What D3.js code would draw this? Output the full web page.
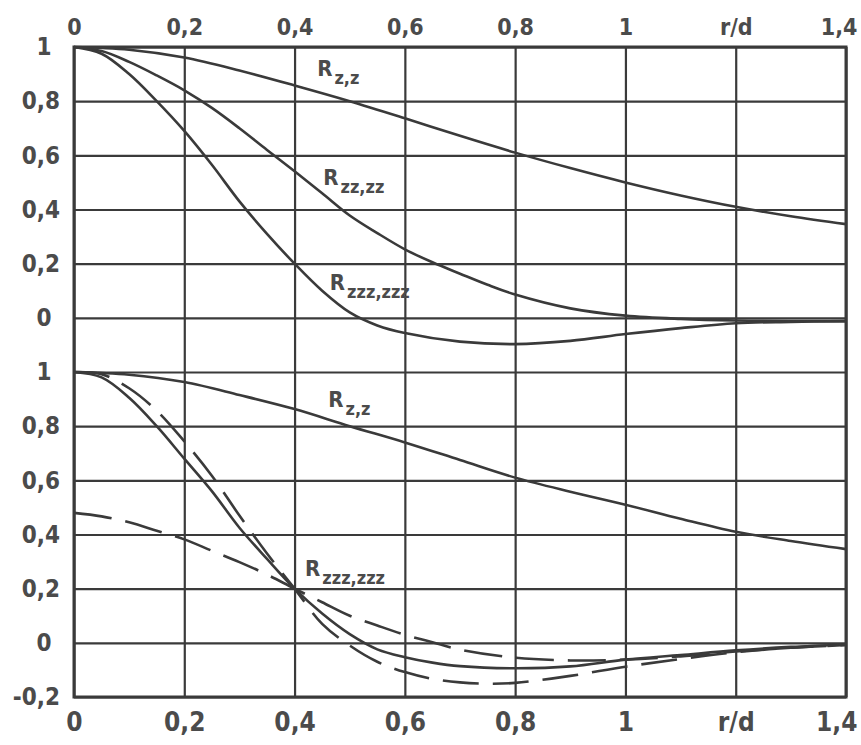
<!DOCTYPE html>
<html lang="en">
<head>
<meta charset="utf-8">
<title>Korrelationsfunktionen</title>
<script src="https://cdn.jsdelivr.net/npm/d3@7/dist/d3.min.js"></script>
<style>
  body { margin: 0; background: #fff; }
  text { font-family: "DejaVu Sans Condensed", "DejaVu Sans", sans-serif; font-weight: bold; font-stretch: condensed; fill: #4b4b4b; }
</style>
</head>
<body>
<div id="chart"></div>
<script>
// axis ticks
var xTicks = [0, 0.2, 0.4, 0.6, 0.8, 1.0, 1.2, 1.4];
var xTickLabels = ["0", "0,2", "0,4", "0,6", "0,8", "1", "r/d", "1,4"];
var yTicksTop = [1, 0.8, 0.6, 0.4, 0.2, 0];
var yTickLabelsTop = ["1", "0,8", "0,6", "0,4", "0,2", "0"];
var yTicksBottom = [1, 0.8, 0.6, 0.4, 0.2, 0, -0.2];
var yTickLabelsBottom = ["1", "0,8", "0,6", "0,4", "0,2", "0", "-0,2"];

// upper panel
var topRzX = [0, 0.1, 0.2, 0.3, 0.4, 0.5, 0.6, 0.7, 0.8, 0.9, 1.0, 1.1, 1.2, 1.3, 1.4];
var topRzY = [1, 0.99, 0.961, 0.913, 0.858, 0.80, 0.737, 0.672, 0.61, 0.553, 0.50, 0.452, 0.41, 0.375, 0.346];
var topRzzX = [0, 0.05, 0.1, 0.15, 0.2, 0.25, 0.3, 0.35, 0.4, 0.45, 0.5, 0.55, 0.6, 0.65, 0.7, 0.75, 0.8, 0.9, 1.0, 1.1, 1.2, 1.3, 1.4];
var topRzzY = [1, 0.985, 0.945, 0.895, 0.84, 0.775, 0.70, 0.62, 0.541, 0.46, 0.378, 0.313, 0.253, 0.205, 0.163, 0.122, 0.086, 0.035, 0.008, -0.004, -0.01, -0.012, -0.012];
var topRzzzX = [0, 0.05, 0.1, 0.15, 0.2, 0.25, 0.3, 0.35, 0.4, 0.45, 0.5, 0.55, 0.6, 0.7, 0.8, 0.9, 1.0, 1.1, 1.2, 1.3, 1.4];
var topRzzzY = [1, 0.975, 0.9, 0.8, 0.69, 0.565, 0.43, 0.31, 0.2, 0.1, 0.02, -0.028, -0.056, -0.088, -0.097, -0.085, -0.06, -0.038, -0.02, -0.015, -0.012];

// lower panel
var botRzX = [0, 0.1, 0.2, 0.3, 0.4, 0.5, 0.6, 0.7, 0.8, 0.9, 1.0, 1.1, 1.2, 1.3, 1.4];
var botRzY = [1, 0.99, 0.963, 0.915, 0.863, 0.80, 0.74, 0.675, 0.61, 0.558, 0.51, 0.458, 0.41, 0.376, 0.346];
var botRzzzX = [0, 0.05, 0.1, 0.15, 0.2, 0.25, 0.3, 0.35, 0.4, 0.45, 0.5, 0.55, 0.6, 0.65, 0.7, 0.8, 0.9, 1.0, 1.1, 1.2, 1.3, 1.4];
var botRzzzY = [1, 0.98, 0.905, 0.80, 0.68, 0.56, 0.425, 0.31, 0.2, 0.108, 0.032, -0.024, -0.053, -0.073, -0.086, -0.094, -0.087, -0.062, -0.045, -0.028, -0.015, -0.006];
var dashAX = [0, 0.05, 0.1, 0.15, 0.2, 0.25, 0.3, 0.35, 0.4, 0.45, 0.5, 0.55, 0.6, 0.65, 0.7, 0.75, 0.8, 0.9, 1.0, 1.1, 1.2, 1.3, 1.4];
var dashAY = [1, 0.992, 0.94, 0.857, 0.744, 0.617, 0.47, 0.33, 0.2, 0.07, -0.01, -0.07, -0.108, -0.133, -0.146, -0.151, -0.148, -0.122, -0.088, -0.06, -0.035, -0.018, -0.008];
var dashBX = [0, 0.05, 0.1, 0.15, 0.2, 0.25, 0.3, 0.35, 0.4, 0.45, 0.5, 0.55, 0.6, 0.65, 0.7, 0.8, 0.9, 1.0, 1.1, 1.2, 1.3, 1.4];
var dashBY = [0.48, 0.467, 0.445, 0.414, 0.382, 0.34, 0.298, 0.252, 0.2, 0.15, 0.1, 0.064, 0.03, 0.002, -0.025, -0.055, -0.065, -0.062, -0.05, -0.032, -0.018, -0.008];

// curve labels: panel, x, y (data units), subscript
var labelPanel = ["top", "top", "top", "bottom", "bottom"];
var labelX = [0.441, 0.452, 0.464, 0.461, 0.419];
var labelY = [0.893, 0.49, 0.103, 0.871, 0.247];
var labelSub = ["z,z", "zz,zz", "zzz,zzz", "z,z", "zzz,zzz"];

var ink = "#3a3a3a";
var margin = { top: 47, right: 15, bottom: 48, left: 74 };
var width = 861 - margin.left - margin.right,
    panelH = 325;

var svg = d3.select("#chart").append("svg")
    .attr("width", 861)
    .attr("height", 745);
var g = svg.append("g")
    .attr("transform", "translate(" + margin.left + "," + margin.top + ")");

var x = d3.scaleLinear().domain([0, 1.4]).range([0, width]);
var yTop = d3.scaleLinear().domain([-0.2, 1]).range([panelH, 0]);
var yBot = d3.scaleLinear().domain([-0.2, 1]).range([2 * panelH, panelH]);

// grid
g.append("g")
    .attr("class", "grid")
    .attr("transform", "translate(0," + 2 * panelH + ")")
    .call(d3.axisBottom(x).tickValues(xTicks).tickSize(-2 * panelH).tickFormat(""));
g.append("g")
    .attr("class", "grid")
    .call(d3.axisLeft(yTop).tickValues(yTicksTop).tickSize(-width).tickFormat(""));
g.append("g")
    .attr("class", "grid")
    .call(d3.axisLeft(yBot).tickValues(yTicksBottom).tickSize(-width).tickFormat(""));
g.selectAll(".grid .domain").remove();
g.selectAll(".grid line").attr("stroke", ink).attr("stroke-width", 2.2);

// curves
var line = function(ys) {
    return d3.line()
        .x(function(d) { return x(d[0]); })
        .y(function(d) { return ys(d[1]); })
        .curve(d3.curveCatmullRom.alpha(0.5));
};
var curves = [
    { xs: topRzX, vs: topRzY, y: yTop, dash: null },
    { xs: topRzzX, vs: topRzzY, y: yTop, dash: null },
    { xs: topRzzzX, vs: topRzzzY, y: yTop, dash: null },
    { xs: botRzX, vs: botRzY, y: yBot, dash: null },
    { xs: botRzzzX, vs: botRzzzY, y: yBot, dash: null },
    { xs: dashAX, vs: dashAY, y: yBot, dash: "36,14" },
    { xs: dashBX, vs: dashBY, y: yBot, dash: "38,14" }
];
curves.forEach(function(c) {
    g.append("path")
        .datum(d3.zip(c.xs, c.vs))
        .attr("fill", "none")
        .attr("stroke", ink)
        .attr("stroke-width", 2.6)
        .attr("stroke-dasharray", c.dash)
        .attr("d", line(c.y));
});

// frame
g.append("rect")
    .attr("width", width)
    .attr("height", 2 * panelH)
    .attr("fill", "none")
    .attr("stroke", ink)
    .attr("stroke-width", 3);

// tick labels
var lastX = xTicks.length - 1;
function xLabels(a, size) {
    a.selectAll("text")
        .attr("font-size", size)
        .attr("text-anchor", function(d, i) { return i === lastX ? "end" : "middle"; })
        .attr("x", function(d, i) { return i === lastX ? 11 : 0; });
}
var xTop = g.append("g").call(d3.axisTop(x).tickValues(xTicks).tickSize(0).tickPadding(12)
    .tickFormat(function(d, i) { return xTickLabels[i]; }));
xLabels(xTop, 23);
var xBot = g.append("g").attr("transform", "translate(0," + 2 * panelH + ")")
    .call(d3.axisBottom(x).tickValues(xTicks).tickSize(0).tickPadding(16)
    .tickFormat(function(d, i) { return xTickLabels[i]; }));
xLabels(xBot, 26);
xBot.selectAll("text").attr("dy", "0.71em");

function yLabels(scale, ticks, labels) {
    var a = g.append("g").call(d3.axisLeft(scale).tickValues(ticks).tickSize(0)
        .tickFormat(function(d, i) { return labels[i]; }));
    a.selectAll("text")
        .attr("font-size", 24)
        .attr("text-anchor", function(d, i) { return labels[i].length > 1 ? "end" : "middle"; })
        .attr("x", function(d, i) { return labels[i].length > 1 ? -14 : -30; });
    return a;
}
yLabels(yTop, yTicksTop, yTickLabelsTop);
yLabels(yBot, yTicksBottom, yTickLabelsBottom);
g.selectAll(".domain").remove();
g.selectAll("text").attr("font-family", null).style("fill", "#4b4b4b");

// curve labels
labelSub.forEach(function(s, i) {
    var ys = labelPanel[i] === "top" ? yTop : yBot;
    var t = g.append("text")
        .attr("x", x(labelX[i]))
        .attr("y", ys(labelY[i]));
    t.append("tspan").attr("font-size", 22).text("R");
    t.append("tspan").attr("font-size", 18).attr("dx", 2).attr("dy", 8).text(s);
});
</script>
</body>
</html>
